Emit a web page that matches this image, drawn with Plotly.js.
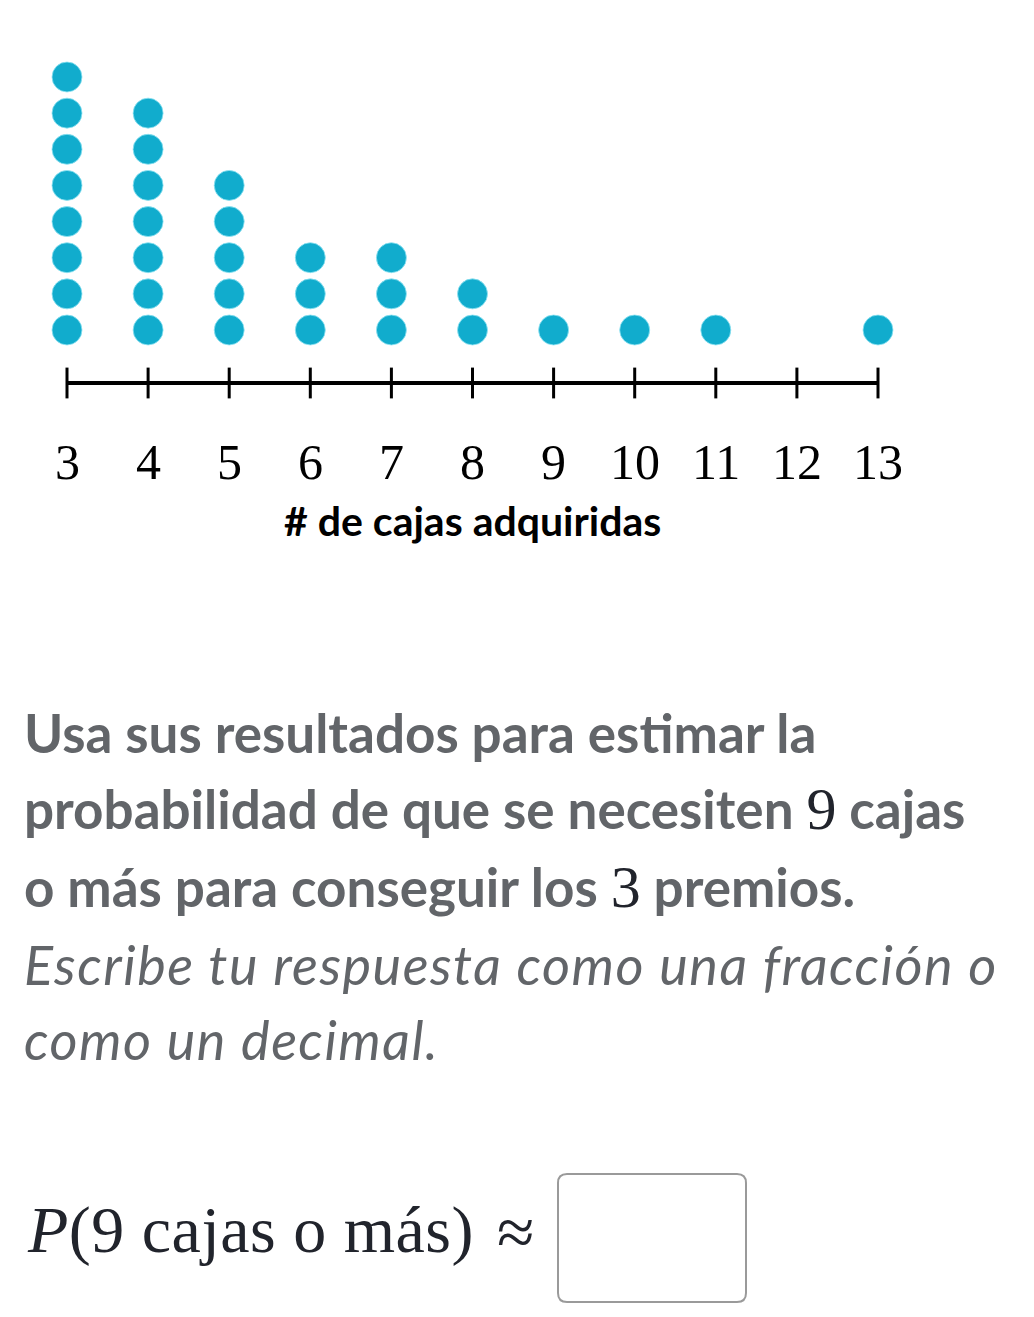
<!DOCTYPE html>
<html>
<head>
<meta charset="utf-8">
<script src="https://cdn.plot.ly/plotly-3.0.1.min.js"></script>
<style>
  html, body { margin: 0; padding: 0; background: #ffffff; }
  #chart { width: 1034px; height: 1317px; }
</style>
</head>
<body>
<div id="chart"></div>
<script>
// ---- data ----
const boxValues = [3, 4, 5, 6, 7, 8, 9, 10, 11, 12, 13];
const dotCounts = [8, 7, 5, 3, 3, 2, 1, 1, 1, 0, 1];
const tickLabels = ['3', '4', '5', '6', '7', '8', '9', '10', '11', '12', '13'];
const axisTitle = '# de cajas adquiridas';
const mathSpan = d => '<span style="font-family:\'Liberation Serif\';font-weight:normal;fill:#21242c;font-size:60px">' + d + '</span>';
const questionLines = [
  'Usa sus resultados para estimar la',
  'probabilidad de que se necesiten ' + mathSpan('9') + ' cajas',
  'o más para conseguir los ' + mathSpan('3') + ' premios.'
];
const instructionLines = [
  'Escribe tu respuesta como una fracción o',
  'como un decimal.'
];
const formulaText = '<i>P</i>(9 cajas o más)';
const approxText = '≈';

// ---- page geometry ----
const W = 1034, H = 1317;
const px3 = 67, px13 = 878;             // pixel x of value 3 and 13
const ux = (px13 - px3) / 10;          // px per unit
const py1 = 330, uy = (330 - 77) / 7;  // pixel y of count 1, px per count
const xr = [3 - px3 / ux, 13 + (W - px13) / ux];
const yr = [1 - (H - py1) / uy, 1 + py1 / uy];
const yAt = p => 1 - (p - py1) / uy;   // pixel row -> y data value
const pyPaper = p => 1 - p / H;
const pxPaper = p => p / W;

// dots
const dx = [], dy = [];
boxValues.forEach((v, i) => {
  for (let k = 1; k <= dotCounts[i]; k++) { dx.push(v); dy.push(k); }
});

const axisY = yAt(383);
const traces = [
  {
    type: 'scatter', mode: 'lines',
    x: [boxValues[0], boxValues[boxValues.length - 1]],
    y: [axisY, axisY],
    line: { color: '#000000', width: 4 },
    hoverinfo: 'skip', showlegend: false
  },
  {
    type: 'scatter', mode: 'markers',
    x: boxValues, y: boxValues.map(() => axisY),
    marker: { symbol: 'line-ns', size: 22, line: { color: '#000000', width: 3 } },
    hoverinfo: 'skip', showlegend: false
  },
  {
    type: 'scatter', mode: 'markers',
    x: dx, y: dy,
    marker: { color: '#11accd', size: 30, line: { color: '#8fe3f2', width: 0.8 } },
    cliponaxis: false,
    showlegend: false
  }
];

const annotations = [];
boxValues.forEach((v, i) => {
  annotations.push({
    x: v, y: yAt(462), xref: 'x', yref: 'y', text: tickLabels[i],
    showarrow: false, xanchor: 'center', yanchor: 'middle',
    font: { family: 'Liberation Serif', size: 50, color: '#000000' }
  });
});
annotations.push({
  x: (boxValues[0] + boxValues[boxValues.length - 1]) / 2, y: yAt(520),
  xref: 'x', yref: 'y', text: axisTitle, showarrow: false,
  xanchor: 'center', yanchor: 'middle',
  font: { family: 'Lato', size: 41, weight: 700, color: '#000000' }
});
const qCenters = [732, 809, 887];
questionLines.forEach((t, i) => {
  annotations.push({
    x: pxPaper(22), y: pyPaper(qCenters[i]), xref: 'paper', yref: 'paper',
    text: t, showarrow: false, xanchor: 'left', yanchor: 'middle',
    font: { family: 'Lato', size: 53, weight: 700, color: '#626569' }
  });
});
const iCenters = [964, 1039];
instructionLines.forEach((t, i) => {
  annotations.push({
    x: pxPaper(22), y: pyPaper(iCenters[i]), xref: 'paper', yref: 'paper',
    text: '<span style="letter-spacing:1.5px"><i>' + t + '</i></span>', showarrow: false,
    xanchor: 'left', yanchor: 'middle',
    font: { family: 'Lato', size: 54, color: '#626569' }
  });
});
annotations.push({
  x: pxPaper(25), y: pyPaper(1230), xref: 'paper', yref: 'paper',
  text: '<span style="letter-spacing:0.5px">' + formulaText + '</span>', showarrow: false,
  xanchor: 'left', yanchor: 'middle',
  font: { family: 'Liberation Serif', size: 66, color: '#21242c' }
});
annotations.push({
  x: pxPaper(515), y: pyPaper(1232), xref: 'paper', yref: 'paper',
  text: approxText, showarrow: false, xanchor: 'center', yanchor: 'middle',
  font: { family: 'Liberation Serif', size: 68, color: '#21242c' }
});

// answer box with rounded corners
const bx0 = 558, bx1 = 746, by0 = 1174, by1 = 1302, r = 9;
const P = (x, y) => pxPaper(x) + ',' + pyPaper(y);
const boxPath = 'M' + P(bx0 + r, by0) + ' L' + P(bx1 - r, by0) +
  ' Q' + P(bx1, by0) + ' ' + P(bx1, by0 + r) +
  ' L' + P(bx1, by1 - r) + ' Q' + P(bx1, by1) + ' ' + P(bx1 - r, by1) +
  ' L' + P(bx0 + r, by1) + ' Q' + P(bx0, by1) + ' ' + P(bx0, by1 - r) +
  ' L' + P(bx0, by0 + r) + ' Q' + P(bx0, by0) + ' ' + P(bx0 + r, by0) + ' Z';

const layout = {
  width: W, height: H,
  margin: { l: 0, r: 0, t: 0, b: 0, pad: 0 },
  paper_bgcolor: '#ffffff', plot_bgcolor: '#ffffff',
  xaxis: { range: xr, visible: false, fixedrange: true },
  yaxis: { range: yr, visible: false, fixedrange: true },
  showlegend: false,
  annotations: annotations,
  shapes: [{
    type: 'path', xref: 'paper', yref: 'paper', path: boxPath,
    line: { color: '#9a9a9a', width: 2 }, fillcolor: 'rgba(0,0,0,0)'
  }]
};

Plotly.newPlot('chart', traces, layout, { staticPlot: true, displayModeBar: false });
</script>
</body>
</html>
